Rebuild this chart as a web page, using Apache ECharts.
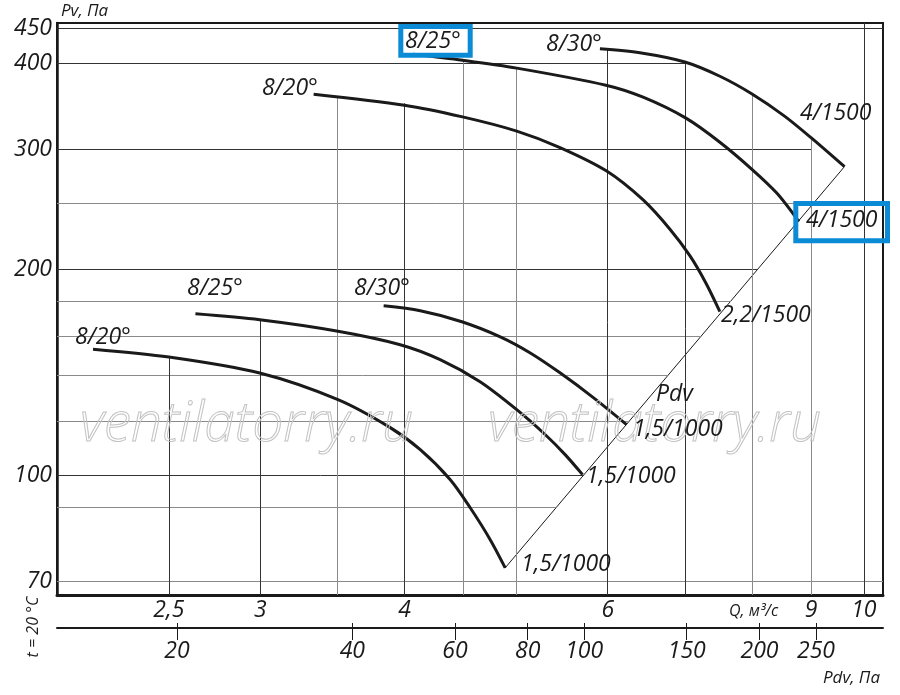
<!DOCTYPE html>
<html><head><meta charset="utf-8">
<script src="https://cdn.jsdelivr.net/npm/echarts@6/dist/echarts.min.js"></script>
<style>html,body{margin:0;padding:0;background:#fff}#c{width:900px;height:695px}</style>
</head><body><div id="c"></div>
<script>
// ---- tick labels ----
const qTicks = [2.5, 3, 4, 6, 9, 10];
const pvTicks = [70, 100, 200, 300, 400, 450];
const pdvTicks = [20, 40, 60, 80, 100, 150, 200, 250];

// ---- curves (Q, m3/s ; Pv, Pa) ----
const q820_1500 = [3.337, 4.0, 4.491, 5.004, 5.455, 5.987, 6.439, 6.79, 7.07, 7.297, 7.504];
const pv820_1500 = [360.8, 347.7, 334.3, 318.7, 301.5, 278.6, 252.8, 229.3, 209.4, 191.2, 173.6];
const q825_1500 = [4.07, 4.491, 5.004, 5.978, 6.439, 7.013, 7.504, 7.995, 8.406, 8.785];
const pv825_1500 = [412.6, 404.4, 393.9, 371.9, 357.2, 332.9, 307.0, 280.5, 258.7, 235.0];
const q830_1500 = [5.907, 6.397, 6.998, 7.504, 7.995, 8.537, 9.011, 9.623];
const pv830_1500 = [420.4, 414.8, 402.1, 383.3, 361.4, 335.2, 311.2, 282.7];

const q820_1000 = [2.149, 2.5, 2.997, 3.503, 3.888, 4.128, 4.381, 4.559, 4.746, 4.89];
const pv820_1000 = [153.0, 149.0, 141.2, 129.1, 117.5, 109.1, 98.7, 89.8, 80.6, 73.3];
const q825_1000 = [2.636, 2.997, 3.503, 3.966, 4.295, 4.651, 5.004, 5.295, 5.511, 5.706];
const pv825_1000 = [172.3, 168.9, 162.5, 155.3, 147.7, 137.1, 124.8, 114.8, 107.3, 100.3];
const q830_1000 = [3.837, 4.128, 4.485, 4.842, 5.137, 5.455, 5.83, 6.23];
const pv830_1000 = [177.0, 174.1, 167.8, 159.5, 151.2, 141.3, 130.0, 118.7];

// dynamic pressure line Pdv
const qPdvLine = [4.89, 9.62];
const pvPdvLine = [73.3, 282.7];

// grid lines (drawn only under the curve envelope, as in the original drawing)
const hGridPv = [450, 400, 300, 250, 200, 180, 160, 140, 120, 100, 90, 70];
const hGridQEnd = [10.39, 7.0, 9.0, 9.04, 8.08, 7.67, 7.23, 6.76, 6.26, 5.72, 5.42, 10.39];
const vGridQ = [2.5, 3, 3.5, 4, 4.5, 5, 6, 7, 8, 9, 10];
const vGridPvTop = [149, 169, 357, 350, 404, 394, 419, 402, 362, 311, 458.5];
const majorPv = [450, 400, 300, 200, 100];
const majorQ = [2.5, 3, 4, 6, 7, 10];

// axis extents
const Q_MIN = 2.0, Q_MAX = 10.39;
const PV_MIN = 66.9, PV_MAX = 458.5;
const PDV_MIN = 12.45, PDV_MAX = 325.8;

const zip = (a, b) => a.map((v, i) => [v, b[i]]);
const F = '"Open Sans", "Noto Sans", sans-serif';
const INK = '#1a1a1a';

const gridLines = [];
hGridPv.forEach((pv, i) => {
  const major = majorPv.includes(pv);
  gridLines.push([
    { coord: [Q_MIN, pv], lineStyle: { color: major ? '#333' : '#8a8a8a', width: 1, type: 'solid' } },
    { coord: [hGridQEnd[i], pv] }
  ]);
});
vGridQ.forEach((q, i) => {
  const major = majorQ.includes(q);
  gridLines.push([
    { coord: [q, PV_MIN], lineStyle: { color: major ? '#333' : '#8a8a8a', width: 1, type: 'solid' } },
    { coord: [q, vGridPvTop[i]] }
  ]);
});

function curve(q, pv) {
  return {
    type: 'line', xAxisIndex: 0, yAxisIndex: 0, data: zip(q, pv),
    smooth: 0.3, showSymbol: false, symbol: 'none', z: 5,
    lineStyle: { color: INK, width: 3 }, silent: true, animation: false
  };
}

const labelFont = 'italic 23px ' + F;
function txt(text, x, y, opts) {
  opts = opts || {};
  return {
    type: 'text', x: x, y: y, rotation: opts.rot || 0, z: 20, silent: true,
    style: {
      text: text, font: opts.font || labelFont, fill: opts.fill || INK,
      align: opts.align || 'left', verticalAlign: 'middle',
      stroke: opts.stroke, lineWidth: opts.lw || 0
    }
  };
}

const chart = echarts.init(document.getElementById('c'), null, { renderer: 'canvas' });
chart.setOption({
  animation: false,
  backgroundColor: '#fff',
  grid: { left: 57, right: 17, top: 23, bottom: 100, show: true, borderColor: INK, borderWidth: 2 },
  xAxis: [
    {
      type: 'log', min: Q_MIN, max: Q_MAX, position: 'bottom',
      axisLine: { show: true, onZero: false, lineStyle: { color: INK, width: 3 } },
      axisTick: { show: false }, splitLine: { show: false },
      minorTick: { show: false }, minorSplitLine: { show: false },
      axisLabel: {
        customValues: qTicks, formatter: v => String(+v.toFixed(2)).replace('.', ','),
        fontSize: 23, fontStyle: 'italic', fontFamily: F, color: INK, margin: 4
      }
    },
    {
      type: 'log', min: PDV_MIN, max: PDV_MAX, position: 'bottom', offset: 33,
      axisLine: { show: true, onZero: false, lineStyle: { color: INK, width: 2 } },
      axisTick: { show: true, customValues: pdvTicks, length: 12, lineStyle: { color: INK, width: 1 } },
      splitLine: { show: false }, minorTick: { show: false },
      axisLabel: {
        customValues: pdvTicks, formatter: v => String(Math.round(v)),
        fontSize: 23, fontStyle: 'italic', fontFamily: F, color: INK, margin: 12
      }
    },
    {
      type: 'log', min: PDV_MIN, max: PDV_MAX, position: 'bottom', offset: 33,
      axisLine: { show: false },
      axisTick: { show: true, inside: true, customValues: pdvTicks, length: 5, lineStyle: { color: INK, width: 1 } },
      splitLine: { show: false }, minorTick: { show: false },
      axisLabel: { show: false }
    }
  ],
  yAxis: {
    type: 'log', min: PV_MIN, max: PV_MAX,
    axisLine: { show: true, onZero: false, lineStyle: { color: INK, width: 2.5 } },
    axisTick: { show: false }, splitLine: { show: false },
    minorTick: { show: false }, minorSplitLine: { show: false },
    axisLabel: {
      customValues: pvTicks, formatter: v => String(Math.round(v)),
      fontSize: 23, fontStyle: 'italic', fontFamily: F, color: INK, margin: 5
    }
  },
  series: [
    {
      type: 'line', data: [], z: 1, silent: true,
      markLine: { silent: true, symbol: ['none', 'none'], label: { show: false }, animation: false, data: gridLines }
    },
    curve(q820_1500, pv820_1500),
    curve(q825_1500, pv825_1500),
    curve(q830_1500, pv830_1500),
    curve(q820_1000, pv820_1000),
    curve(q825_1000, pv825_1000),
    curve(q830_1000, pv830_1000),
    {
      type: 'line', data: zip(qPdvLine, pvPdvLine), showSymbol: false, symbol: 'none', z: 4,
      lineStyle: { color: INK, width: 1 }, silent: true
    }
  ],
  graphic: [
    txt('ventilatorry.ru', 80, 425, { font: 'italic 300 55px ' + F, fill: 'rgba(0,0,0,0)', stroke: '#c2c2c2', lw: 1 }),
    txt('ventilatorry.ru', 488, 425, { font: 'italic 300 55px ' + F, fill: 'rgba(0,0,0,0)', stroke: '#c2c2c2', lw: 1 }),
    txt('Pv, Па', 61, 11, { font: 'italic 17px ' + F }),
    txt('8/20°', 262, 88),
    txt('8/25°', 405, 41),
    txt('8/30°', 546, 44),
    txt('4/1500', 800, 113),
    txt('4/1500', 806, 220),
    txt('2,2/1500', 721, 315),
    txt('Pdv', 656, 394),
    txt('1,5/1000', 633, 429),
    txt('1,5/1000', 586, 476),
    txt('1,5/1000', 521, 564),
    txt('8/20°', 75, 337),
    txt('8/25°', 187, 288),
    txt('8/30°', 354, 288),
    txt('Q, м³/с', 729, 611, { font: 'italic 16px ' + F }),
    txt('Pdv, Па', 880, 678, { font: 'italic 17px ' + F, align: 'right' }),
    txt('t = 20 °C', 33, 627, { font: 'italic 16px ' + F, align: 'center', rot: Math.PI / 2 }),
    { type: 'rect', z: 30, silent: true, shape: { x: 400.8, y: 26.5, width: 69.4, height: 28.7 },
      style: { fill: 'none', stroke: '#0b8bd6', lineWidth: 5 } },
    { type: 'rect', z: 30, silent: true, shape: { x: 795.8, y: 203.5, width: 91.7, height: 37.3 },
      style: { fill: 'none', stroke: '#0b8bd6', lineWidth: 5 } }
  ]
});
</script>
</body></html>
